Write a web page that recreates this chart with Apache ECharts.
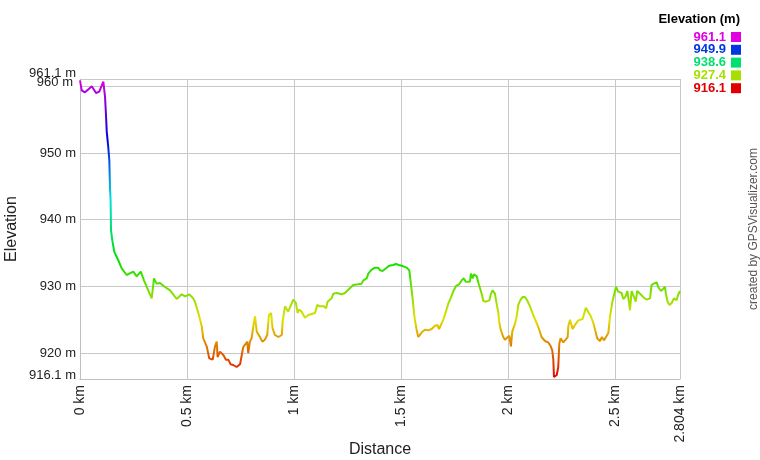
<!DOCTYPE html>
<html><head><meta charset="utf-8">
<script src="https://cdn.jsdelivr.net/npm/echarts@6/dist/echarts.min.js"></script>
<style>html,body{margin:0;padding:0;background:#fff}#c{width:760px;height:460px}</style>
</head><body><div id="c"></div>
<script>
const distKm = [0,0.008,0.023,0.037,0.055,0.075,0.090,0.109,0.114,0.117,0.121,0.125,0.132,0.137,0.140,0.143,0.145,0.151,0.160,0.179,0.195,0.218,0.249,0.265,0.284,0.299,0.319,0.335,0.346,0.358,0.374,0.397,0.421,0.452,0.475,0.491,0.511,0.529,0.537,0.553,0.569,0.576,0.592,0.604,0.620,0.626,0.631,0.639,0.643,0.654,0.670,0.682,0.693,0.704,0.716,0.732,0.748,0.756,0.763,0.771,0.782,0.786,0.794,0.802,0.810,0.818,0.826,0.841,0.852,0.864,0.875,0.883,0.893,0.900,0.911,0.927,0.943,0.947,0.958,0.966,0.973,0.986,0.997,1.009,1.017,1.023,1.036,1.051,1.067,1.075,1.098,1.109,1.121,1.129,1.140,1.150,1.157,1.176,1.184,1.200,1.223,1.238,1.254,1.277,1.300,1.316,1.324,1.340,1.347,1.363,1.379,1.394,1.402,1.414,1.430,1.445,1.464,1.477,1.495,1.511,1.527,1.539,1.547,1.555,1.561,1.565,1.573,1.581,1.597,1.612,1.628,1.643,1.659,1.670,1.678,1.687,1.698,1.710,1.721,1.732,1.744,1.757,1.772,1.784,1.794,1.802,1.822,1.827,1.835,1.841,1.854,1.861,1.877,1.885,1.897,1.913,1.921,1.928,1.939,1.947,1.955,1.959,1.966,1.978,1.986,1.991,1.995,2.006,2.014,2.020,2.033,2.041,2.048,2.059,2.069,2.079,2.090,2.103,2.118,2.134,2.146,2.157,2.173,2.188,2.200,2.207,2.212,2.215,2.220,2.228,2.235,2.240,2.246,2.258,2.270,2.279,2.282,2.290,2.298,2.302,2.313,2.329,2.349,2.364,2.375,2.386,2.399,2.407,2.417,2.430,2.439,2.449,2.458,2.469,2.477,2.488,2.497,2.505,2.515,2.531,2.539,2.550,2.558,2.565,2.570,2.578,2.589,2.597,2.604,2.617,2.632,2.648,2.664,2.671,2.682,2.695,2.702,2.715,2.724,2.734,2.738,2.746,2.755,2.765,2.776,2.788,2.795,2.804];
const elevM = [960.9,959.4,959.1,959.5,960.0,959.0,959.2,960.7,960.8,958.4,956.0,953.2,950.9,948.9,944.9,942.9,938.4,936.9,935.2,933.9,932.7,931.7,932.2,931.5,932.2,930.9,929.4,928.2,931.2,930.4,930.5,929.9,929.4,928.1,928.8,928.5,928.8,928.2,927.7,926.0,924.0,922.2,921.0,919.2,919.0,918.7,921.0,921.7,919.4,920.2,919.7,919.0,919.0,918.3,918.2,917.9,918.3,919.7,920.9,920.8,921.7,920.0,921.7,922.2,924.0,925.5,923.2,922.4,921.7,922.0,922.7,925.7,926.0,923.7,922.7,922.4,922.7,924.7,927.0,927.2,926.2,927.2,928.0,927.5,926.0,926.5,926.2,925.3,925.7,926.0,926.0,927.2,927.0,927.3,927.0,926.7,927.7,928.2,928.9,929.0,928.8,929.0,929.5,930.2,930.3,930.4,930.9,931.2,931.9,932.5,932.8,932.8,932.4,932.3,932.7,933.1,933.2,933.35,933.15,933.0,932.8,932.4,930.2,928.0,926.0,925.0,923.5,922.4,923.1,923.5,923.4,923.6,924.1,924.2,923.6,923.7,925.0,926.2,927.4,928.2,929.2,930.05,930.3,930.9,931.2,930.7,930.7,931.9,931.2,931.8,931.5,930.6,928.9,927.8,927.7,927.9,928.9,929.4,928.9,927.4,926.0,924.7,923.5,922.4,922.0,921.7,922.0,922.6,921.0,923.2,924.4,925.5,927.2,928.0,928.4,928.4,927.9,927.0,925.7,924.5,923.5,922.4,921.8,921.6,921.0,920.4,919.0,916.4,916.1,916.7,917.9,921.4,922.2,921.6,922.0,922.4,924.0,925.0,924.9,923.6,924.2,924.9,925.1,926.8,926.2,925.6,924.5,923.5,922.2,921.8,922.4,921.9,921.8,923.0,925.5,927.7,928.9,929.9,929.2,929.0,928.1,928.5,929.3,927.7,926.4,929.3,928.4,927.7,929.3,928.9,928.4,928.0,928.2,930.2,930.4,930.6,929.9,929.3,929.6,929.9,928.9,927.7,927.2,927.5,928.2,927.9,928.7,929.3];
const xTicks = [0,0.5,1,1.5,2,2.5,2.804];
const yGridValues = [916.1,920,930,940,950,960,961.1];
const yLabelsMain = [916.1,920,930,940,950,960];
const yLabelsTop = [961.1];
const legendValues = [961.1,949.9,938.6,927.4,916.1];
const yMin = 916.1, yMax = 961.1;

function hueColor(v){ const h = 300*(v-yMin)/(yMax-yMin); return 'hsl('+h.toFixed(1)+',100%,44%)'; }
const stops = [];
for (let i=0;i<=20;i++){ stops.push('hsl('+(i*15)+',100%,44%)'); }

const chart = echarts.init(document.getElementById('c'), null, {renderer:'canvas'});
const FONT = 'Liberation Sans, Arial, sans-serif';
const graphics = [{
  type:'text', x:740, y:13,
  style:{text:'Elevation (m)', font:'bold 13px '+FONT, fill:'#000', align:'right', verticalAlign:'top'}
},{
  type:'text', x:754, y:229, rotation:Math.PI/2,
  style:{text:'created by GPSVisualizer.com', font:'12px '+FONT, fill:'#555', align:'center', verticalAlign:'middle'}
}];
legendValues.forEach((v,i)=>{
  const y = 37 + i*12.8;
  graphics.push({type:'text', x:726, y:y, style:{text:v.toFixed(1), font:'bold 13px '+FONT, fill:hueColor(v), align:'right', verticalAlign:'middle'}});
  graphics.push({type:'rect', shape:{x:731, y:y-5, width:10, height:10}, style:{fill:hueColor(v)}});
});

const txt = {fontSize:13, fontFamily:FONT, color:'#222'};
const yLabelBase = {margin:4, fontSize:13, fontFamily:FONT, color:'#222', hideOverlap:false,
  rich:{
    lo:Object.assign({padding:[0,0,7,0]}, txt),
    hi:Object.assign({padding:[0,3,8,0]}, txt),
    top:Object.assign({padding:[0,0,11,0]}, txt)
  },
  formatter:v=>{
    if (v===yMin) return '{lo|'+v+' m}';
    if (v===960) return '{hi|'+v+' m}';
    if (v===yMax) return '{top|'+v+' m}';
    return v+' m';
  }};

chart.setOption({
  animation:false,
  grid:{left:80, right:80, top:79, bottom:81, containLabel:false, outerBoundsMode:'none'},
  xAxis:{type:'value', min:0, max:2.804,
    name:'Distance', nameLocation:'middle', nameGap:63, nameMoveOverlap:false,
    nameTextStyle:{fontSize:16, color:'#222', fontFamily:FONT},
    axisLine:{lineStyle:{color:'#c0c0c0'}},
    axisTick:{show:false, customValues:xTicks},
    axisLabel:{customValues:xTicks, rotate:90, margin:6, fontSize:14, fontFamily:FONT, color:'#222', hideOverlap:false,
      showMinLabel:true, showMaxLabel:true, formatter:v=>v+' km'},
    splitLine:{show:true, lineStyle:{color:'#c8c8c8', width:1}}
  },
  yAxis:[{type:'value', min:yMin, max:yMax, position:'left',
    name:'Elevation', nameLocation:'middle', nameGap:60, nameRotate:90, nameMoveOverlap:false,
    nameTextStyle:{fontSize:16, color:'#222', fontFamily:FONT},
    axisLine:{show:true, lineStyle:{color:'#c0c0c0'}},
    axisTick:{show:false, customValues:yGridValues},
    axisLabel:Object.assign({customValues:yLabelsMain}, yLabelBase),
    splitLine:{show:true, lineStyle:{color:'#c8c8c8', width:1}}
  },{type:'value', min:yMin, max:yMax, position:'left', offset:0,
    axisLine:{show:false}, axisTick:{show:false, customValues:yLabelsTop},
    axisLabel:Object.assign({customValues:yLabelsTop}, yLabelBase),
    splitLine:{show:false}
  }],
  visualMap:{show:false, type:'continuous', dimension:1, seriesIndex:0, min:yMin, max:yMax, inRange:{color:stops}},
  series:[{type:'line', yAxisIndex:0, data:distKm.map((d,i)=>[d, elevM[i]]), showSymbol:false, symbol:'none',
    lineStyle:{width:2}}],
  graphic:graphics
});
</script></body></html>
